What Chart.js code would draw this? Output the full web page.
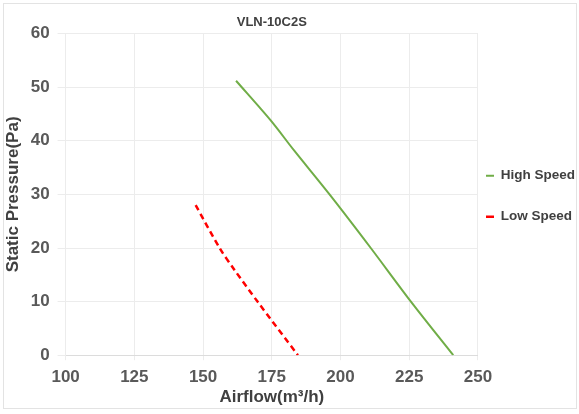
<!DOCTYPE html>
<html>
<head>
<meta charset="utf-8">
<script src="https://cdn.jsdelivr.net/npm/chart.js@4"></script>
<style>
    html, body { margin: 0; padding: 0; background: #fff; }
    #wrap {
        position: absolute;
        left: 3px;
        top: 3px;
        width: 572px;
        height: 404px;
        border: 1px solid #e3e3e3;
    }
</style>
</head>
<body>
<div id="wrap"><canvas id="fanChart"></canvas></div>
<script>
// Fan curve values
const chartTitle = 'VLN-10C2S';
const highFlow = [162, 174.6, 183.1, 196, 211, 225.6, 241];
const highPressure = [51.2, 43.8, 38.2, 30, 20, 10, 0];
const lowFlow = [147.3, 156, 161.3, 169.8, 184.5];
const lowPressure = [28, 20, 16, 10, 0];
const xTicks = [100, 125, 150, 175, 200, 225, 250];
const yTicks = [0, 10, 20, 30, 40, 50, 60];

function toPoints(xs, ys) {
    return xs.map((x, i) => ({ x: x, y: ys[i] }));
}

const labelFont = { family: '"Liberation Sans", Arial, sans-serif', weight: 'bold' };

document.addEventListener('DOMContentLoaded', function () {
    const ctx = document.getElementById('fanChart');

    new Chart(ctx, {
        type: 'scatter',
        data: {
            datasets: [
                {
                    label: 'High Speed',
                    data: toPoints(highFlow, highPressure),
                    showLine: true,
                    borderColor: '#70ad47',
                    backgroundColor: '#70ad47',
                    borderWidth: 2,
                    pointRadius: 0,
                    tension: 0.3,
                    pointStyle: 'line'
                },
                {
                    label: 'Low Speed',
                    data: toPoints(lowFlow, lowPressure),
                    showLine: true,
                    borderColor: '#ff0000',
                    backgroundColor: '#ff0000',
                    borderWidth: 2.5,
                    borderDash: [6, 4],
                    pointRadius: 0,
                    tension: 0.3,
                    pointStyle: 'line'
                }
            ]
        },
        options: {
            responsive: true,
            maintainAspectRatio: false,
            animation: false,
            layout: { padding: { top: 0, right: -9, left: 0, bottom: 0 } },
            plugins: {
                title: {
                    display: true,
                    text: chartTitle,
                    fullSize: false,
                    color: '#404040',
                    font: { ...labelFont, size: 13 },
                    padding: { top: 11, bottom: 3 }
                },
                legend: {
                    position: 'right',
                    labels: {
                        usePointStyle: true,
                        pointStyleWidth: 8,
                        color: '#404040',
                        // tall line height spreads the two entries apart like the reference
                        font: { ...labelFont, size: 13.5, lineHeight: 2.444 },
                        padding: 8,
                        generateLabels: (chart) => {
                            const items = Chart.defaults.plugins.legend.labels.generateLabels(chart);
                            items.forEach(item => { item.text = [item.text]; });
                            return items;
                        }
                    }
                },
                tooltip: { enabled: false }
            },
            scales: {
                x: {
                    type: 'linear',
                    min: 100,
                    max: 250,
                    afterBuildTicks: (axis) => { axis.ticks = xTicks.map(v => ({ value: v })); },
                    grid: { color: '#ececec', tickLength: 5 },
                    border: { color: '#dcdcdc' },
                    ticks: { color: '#595959', font: { ...labelFont, size: 17 }, padding: 7 },
                    title: {
                        display: true,
                        text: 'Airflow(m³/h)',
                        color: '#404040',
                        font: { ...labelFont, size: 17 },
                        padding: { top: -7, bottom: 0 }
                    }
                },
                y: {
                    type: 'linear',
                    min: 0,
                    max: 60,
                    afterBuildTicks: (axis) => { axis.ticks = yTicks.map(v => ({ value: v })); },
                    grid: { color: '#ececec', tickLength: 8 },
                    border: { color: '#ececec' },
                    ticks: { color: '#595959', font: { ...labelFont, size: 17 }, padding: 8 },
                    title: {
                        display: true,
                        text: 'Static Pressure(Pa)',
                        color: '#404040',
                        font: { ...labelFont, size: 17, lineHeight: 1.1 },
                        padding: { top: 0, bottom: 0 }
                    }
                }
            }
        }
    });
});
</script>
</body>
</html>
